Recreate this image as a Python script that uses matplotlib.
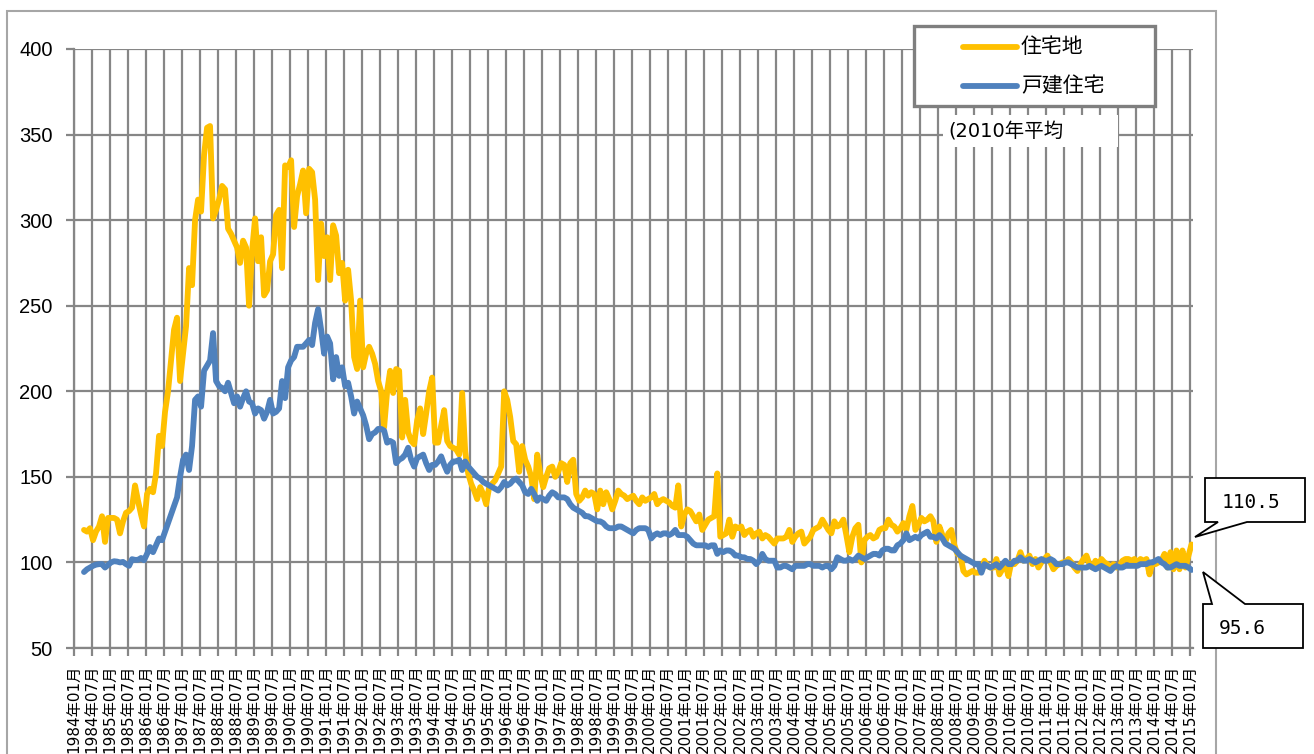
import matplotlib
matplotlib.use('Agg')
import matplotlib.pyplot as plt
import numpy as np
import pandas as pd
from matplotlib.patches import Rectangle, Polygon
from matplotlib.lines import Line2D

W, H = 1314, 754
CJK = ['DejaVu Sans', 'Noto Sans CJK JP']
plt.rcParams['font.family'] = CJK

axis_start = '1984-01'
first_month = '1984-04'
series_names = ['住宅地', '戸建住宅']
note_text = '(2010年平均'

# monthly index, one row per year
jutakuchi = [
    119, 118, 120, 113, 118, 121, 127, 112, 126,
    126, 126, 125, 117, 124, 129, 130, 132, 145, 136, 128, 121,
    140, 143, 141, 152, 174, 168, 188, 200, 218, 236, 243, 206,
    222, 238, 272, 262, 300, 312, 305, 338, 354, 355, 301, 306,
    312, 320, 318, 295, 292, 288, 284, 275, 288, 284, 250, 282,
    301, 276, 290, 256, 259, 276, 280, 303, 306, 272, 332, 331,
    335, 296, 314, 321, 329, 304, 330, 328, 312, 265, 298, 279,
    290, 265, 297, 291, 269, 275, 253, 271, 253, 220, 213, 253,
    214, 222, 226, 222, 216, 206, 200, 179, 200, 212, 199, 213,
    212, 173, 195, 176, 171, 169, 183, 190, 175, 187, 200, 208,
    170, 170, 180, 189, 171, 168, 167, 166, 163, 199, 165, 152,
    146, 142, 137, 144, 140, 134, 144, 146, 148, 152, 156, 200,
    195, 185, 171, 169, 153, 168, 160, 156, 150, 137, 163, 152,
    144, 150, 155, 156, 150, 153, 158, 157, 147, 158, 160, 140,
    136, 138, 142, 139, 141, 140, 131, 142, 134, 141, 137, 131,
    136, 142, 140, 139, 137, 138, 139, 136, 134, 138, 136, 137,
    138, 140, 134, 136, 137, 136, 135, 133, 132, 145, 121, 128,
    131, 130, 127, 124, 128, 119, 122, 125, 126, 127, 152, 115,
    116, 117, 125, 115, 121, 120, 121, 116, 118, 119, 115, 117,
    118, 114, 116, 115, 113, 111, 114, 114, 114, 115, 119, 112,
    115, 117, 118, 111, 113, 115, 119, 120, 121, 125, 122, 119,
    117, 124, 121, 122, 125, 116, 106, 115, 120, 122, 100, 113,
    115, 116, 114, 115, 119, 120, 120, 125, 122, 121, 118, 120,
    123, 119, 127, 133, 119, 122, 126, 124, 125, 127, 124, 112,
    121, 116, 112, 117, 119, 110, 105, 104, 95, 93, 94, 95,
    94, 94, 95, 101, 98, 97, 97, 102, 93, 96, 99, 92,
    100, 99, 101, 106, 101, 102, 104, 99, 102, 97, 100, 102,
    104, 100, 96, 98, 99, 100, 100, 102, 100, 97, 95, 99,
    102, 104, 99, 97, 101, 98, 102, 100, 99, 96, 99, 97,
    98, 101, 102, 102, 101, 102, 100, 102, 101, 102, 93, 100,
    99, 100, 101, 105, 97, 106, 96, 107, 96, 107, 97, 104,
    110.5,
]

kodate = [
    94.4, 96, 97, 98, 98.7, 99, 99, 97, 98.5,
    100, 100.7, 100.5, 100, 100.3, 99, 98, 101.9, 101.5, 101.5, 102.6, 101.3,
    105, 109, 106, 110, 114, 113, 118, 123, 128, 133, 138, 150,
    160, 163, 154, 168, 195, 197, 191, 212, 215, 218, 234, 206,
    203, 202, 200, 205, 199, 193, 197, 191, 196, 200, 194, 193,
    187, 190, 189, 184, 188, 195, 187, 188, 190, 206, 196, 214,
    218, 220, 226, 226, 226, 228, 230, 227, 240, 248, 236, 222,
    232, 228, 207, 220, 209, 214, 203, 205, 197, 187, 194, 190,
    186, 180, 172, 175, 176, 178, 178, 177, 170, 171, 170, 158,
    160, 161, 163, 167, 160, 156, 161, 162, 163, 158, 154, 157,
    157, 159, 162, 157, 153, 157, 159, 159, 160, 154, 159, 156,
    154, 152, 150, 149, 147, 146, 145, 144, 143, 142, 144, 147,
    145, 146, 148, 149, 147, 145, 141, 140, 143, 140, 136, 138,
    137, 136, 139, 141, 140, 138, 138, 138, 137, 134, 132, 131,
    130, 129, 127, 127, 126, 125, 124, 124, 123, 121, 120, 120,
    120, 121, 121, 120, 119, 118, 117, 119, 120, 120, 120, 119,
    114, 116, 117, 116, 117, 117, 116, 117, 119, 116, 116, 116,
    115, 113, 111, 110, 110, 110, 110, 109, 110, 110, 105, 107,
    106, 107, 107, 106, 104, 104, 103, 103, 102, 102, 101, 99,
    101, 105, 102, 101, 101, 101, 97, 97, 98, 98, 97, 96,
    98, 98, 98, 98, 99, 99, 98, 98, 98, 97, 98, 98,
    96, 98, 103, 102, 101, 101, 102, 101, 102, 104, 103, 102,
    103, 104, 105, 105, 104, 107, 108, 108, 107, 107, 110, 111,
    113, 117, 113, 114, 115, 114, 116, 117, 118, 115, 115, 114,
    116, 114, 111, 110, 109, 108, 106, 104, 103, 102, 101, 100,
    99, 99, 94, 99, 98, 97, 98, 99, 97, 99, 101, 99,
    99, 101, 101, 103, 101, 101, 102, 101, 100, 101, 102, 101,
    101, 102, 101, 99, 99, 99, 100, 100, 99, 98, 97, 97,
    97, 97, 98, 97, 96, 97, 98, 97, 96, 95, 97, 98,
    97, 97, 98, 98, 98, 98, 98, 99, 99, 99, 100, 100,
    101, 102, 100, 99, 97, 97, 98, 99, 98, 98, 98, 97,
    95.6,
]

COLORS = {'住宅地': '#FFC000', '戸建住宅': '#4F81BD'}
GRID = '#868686'
LW = 4.2


def fx(px):
    return px / W


def fy(py):
    return 1 - py / H


start = pd.Period(axis_start, freq='M')
months = pd.period_range(first_month, periods=len(jutakuchi), freq='M')
x = np.array([(m - start).n for m in months]) + 0.5
n_cat = (months[-1] - start).n + 1

fig = plt.figure(figsize=(W / 100, H / 100), dpi=100)
ax = fig.add_axes([fx(73.5), fy(648), (1193 - 73.5) / W, (648 - 49) / H])

for name, vals in zip(series_names, [jutakuchi, kodate]):
    ax.plot(x, vals, color=COLORS[name], lw=LW, solid_joinstyle='round',
            solid_capstyle='round', zorder=3)

ax.set_xlim(0, n_cat)
ax.set_ylim(50, 400)
ax.set_yticks(range(50, 401, 50))
tick_pos = list(range(0, n_cat, 6))
ax.set_xticks(tick_pos)
ax.set_xticklabels([f'{(start + k).year}年{(start + k).month:02d}月' for k in tick_pos],
                   rotation=90, fontsize=11, va='top', ha='center')
for lab in ax.get_yticklabels():
    lab.set_family('Liberation Sans')
    lab.set_fontsize(14.5)

ax.grid(True, color=GRID, lw=1.6)
ax.set_axisbelow(True)
for s in ['top', 'right']:
    ax.spines[s].set_visible(False)
for s in ['left', 'bottom']:
    ax.spines[s].set_color(GRID)
    ax.spines[s].set_linewidth(1.6)
ax.tick_params(axis='y', length=6, width=1.6, color=GRID, pad=9)
ax.tick_params(axis='x', length=6, width=1.6, color=GRID, pad=6)

# outer chart frame
fig.patches.append(Rectangle((fx(7), fy(770)), fx(1216) - fx(7), fy(11) - fy(770),
                             transform=fig.transFigure, fill=False, ec='#a6a6a6', lw=1.5))

# legend box
fig.patches.append(Rectangle((fx(914), fy(106)), fx(1155) - fx(914), fy(26) - fy(106),
                             transform=fig.transFigure, fc='white', ec='#7f7f7f', lw=2.4, zorder=5))
for name, py in zip(series_names, [46.7, 86]):
    fig.lines.append(Line2D([fx(963), fx(1017)], [fy(py), fy(py)], transform=fig.transFigure,
                            color=COLORS[name], lw=LW, solid_capstyle='round', zorder=6))
    fig.text(fx(1021), fy(py), name, fontsize=15, va='center', ha='left',
             family=['Noto Sans CJK JP'], zorder=6)

# note
fig.patches.append(Rectangle((fx(943), fy(147)), fx(1118) - fx(943), fy(115) - fy(147),
                             transform=fig.transFigure, fc='white', ec='none', zorder=5))
fig.text(fx(948), fy(132), note_text, fontsize=14, va='center', ha='left', zorder=6)

# callouts for the last values
box1 = [(1205, 478), (1305, 478), (1305, 522), (1247, 522), (1195, 537), (1218, 522), (1205, 522)]
box2 = [(1203, 604), (1212, 604), (1203, 572), (1245, 604), (1303, 604), (1303, 648), (1203, 648)]
for pts in [box1, box2]:
    fig.patches.append(Polygon([(fx(a), fy(b)) for a, b in pts], closed=True,
                               transform=fig.transFigure, fc='white', ec='black', lw=1.3, zorder=7))
fig.text(fx(1222), fy(502), f'{jutakuchi[-1]}', fontsize=14, va='center', ha='left',
         family='DejaVu Sans Mono', zorder=8)
fig.text(fx(1219), fy(628), f'{kodate[-1]}', fontsize=14, va='center', ha='left',
         family='DejaVu Sans Mono', zorder=8)

fig.savefig('out.png', dpi=100)
